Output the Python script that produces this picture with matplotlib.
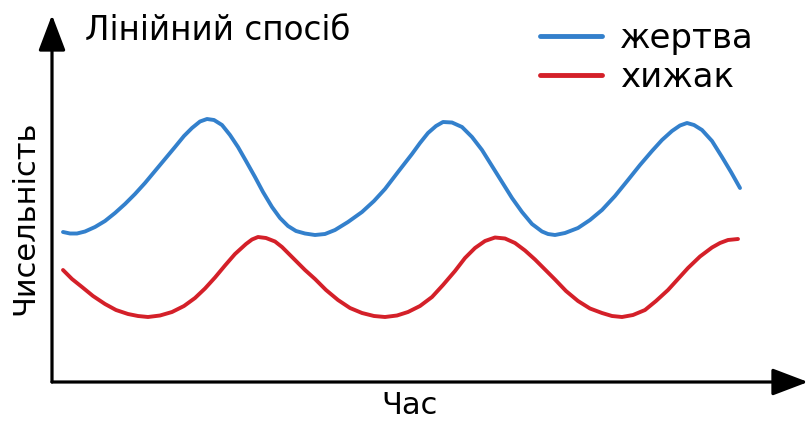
import matplotlib.pyplot as plt

plt.rcParams['font.family'] = ['DejaVu Sans']

# Час (умовні одиниці) і чисельність жертви
t_zhertva = [1.3, 2.0, 2.7, 3.5, 4.5, 5.5, 6.5, 7.5, 8.5, 9.5, 10.5, 11.5, 12.5, 13.4,
             14.2, 15.0, 15.7, 16.4, 17.2, 18.0, 18.8, 19.6, 20.5, 21.3, 22.2, 23.0,
             23.8, 24.6, 25.5, 26.5, 27.5, 28.5, 29.8, 31.2, 32.4, 33.5, 34.8, 36.2,
             37.0, 37.8, 38.6, 39.3, 40.2, 41.2, 42.2, 43.2, 44.2, 45.2, 46.2, 47.2,
             48.2, 49.2, 49.8, 50.5, 51.5, 52.8, 54.0, 55.2, 56.5, 57.8, 59.0, 60.2,
             61.2, 62.2, 63.0, 63.7, 64.4, 65.2, 66.2, 67.2, 68.1, 69.0]
n_zhertva = [14.8, 14.65, 14.65, 14.85, 15.3, 15.9, 16.7, 17.6, 18.6, 19.7, 20.9, 22.1,
             23.3, 24.4, 25.2, 25.85, 26.1, 26.0, 25.5, 24.5, 23.3, 21.9, 20.3, 18.8,
             17.3, 16.2, 15.4, 14.9, 14.65, 14.5, 14.6, 15.0, 15.8, 16.8, 17.9, 19.1,
             20.8, 22.6, 23.7, 24.7, 25.4, 25.8, 25.75, 25.3, 24.3, 23.0, 21.4, 19.8,
             18.2, 16.8, 15.6, 14.85, 14.6, 14.5, 14.7, 15.2, 16.0, 17.0, 18.4, 20.0,
             21.5, 22.9, 24.0, 24.9, 25.45, 25.7, 25.5, 25.0, 23.9, 22.3, 20.8, 19.2]

# Час і чисельність хижака
t_khyzhak = [1.3, 2.2, 3.2, 4.3, 5.5, 6.6, 7.8, 8.8, 9.8, 11.0, 12.2, 13.4, 14.5, 15.5,
             16.5, 17.5, 18.5, 19.6, 20.2, 20.8, 21.6, 22.5, 23.2, 23.8, 24.6, 25.5,
             26.5, 27.6, 28.8, 30.0, 31.2, 32.4, 33.5, 34.7, 35.8, 37.0, 38.2, 39.3,
             40.5, 41.5, 42.5, 43.5, 44.5, 45.5, 46.5, 47.5, 48.5, 49.5, 50.5, 51.6,
             52.8, 54.0, 55.2, 56.2, 57.2, 58.3, 59.5, 60.6, 61.8, 62.8, 63.8, 65.0,
             66.2, 67.0, 67.8, 68.8]
n_khyzhak = [11.0, 10.1, 9.3, 8.4, 7.6, 7.0, 6.6, 6.4, 6.3, 6.45, 6.8, 7.4, 8.2, 9.15,
             10.25, 11.45, 12.6, 13.6, 14.05, 14.3, 14.2, 13.85, 13.3, 12.7, 11.9, 11.0,
             10.1, 9.0, 8.0, 7.2, 6.7, 6.4, 6.3, 6.45, 6.8, 7.4, 8.3, 9.5,
             10.9, 12.2, 13.2, 13.9, 14.25, 14.15, 13.7, 12.95, 12.05, 11.05, 10.05, 8.9,
             7.9, 7.15, 6.7, 6.4, 6.3, 6.5, 7.0, 7.9, 9.0, 10.1, 11.2, 12.35,
             13.25, 13.7, 14.0, 14.1]

W, H = 809, 421
fig = plt.figure(figsize=(W / 100, H / 100), dpi=100)
ax = fig.add_axes([52 / W, (H - 382) / H, 756 / W, 367 / H])
ax.set_xlim(0.2, 75.8)
ax.set_ylim(-0.2, 36.5)

ax.plot(t_zhertva, n_zhertva, color='#3380cc', lw=2.8, label='жертва',
        solid_joinstyle='round', solid_capstyle='round')
ax.plot(t_khyzhak, n_khyzhak, color='#d42029', lw=2.8, label='хижак',
        solid_joinstyle='round', solid_capstyle='round')

for s in ax.spines.values():
    s.set_visible(False)
ax.set_xticks([])
ax.set_yticks([])

# осі зі стрілками
arrow = dict(arrowstyle='-|>,head_length=1.0,head_width=0.38', lw=2.3,
             color='black', mutation_scale=22, shrinkA=0, shrinkB=0)
ax.annotate('', xy=(0, 1), xytext=(0, 0), xycoords='axes fraction', arrowprops=arrow)
ax.annotate('', xy=(1, 0), xytext=(0, 0), xycoords='axes fraction', arrowprops=arrow)

fig.text(85 / W, 1 - 30 / H, 'Лінійний спосіб', fontsize=23.5, va='center', ha='left')
fig.text(410 / W, 1 - 406 / H, 'Час', fontsize=22, va='center', ha='center')
fig.text(25 / W, 1 - 218 / H, 'Чисельність', fontsize=22, va='center', ha='center',
         rotation=90)

leg = ax.legend(loc='upper left', bbox_to_anchor=(540 / W, 1 - 22 / H),
                bbox_transform=fig.transFigure, frameon=False, fontsize=24.5,
                handlelength=1.82, handletextpad=0.53, labelspacing=0.18,
                borderpad=0, borderaxespad=0)
for line in leg.get_lines():
    line.set_linewidth(3.5)

fig.savefig('out.png', dpi=100)
